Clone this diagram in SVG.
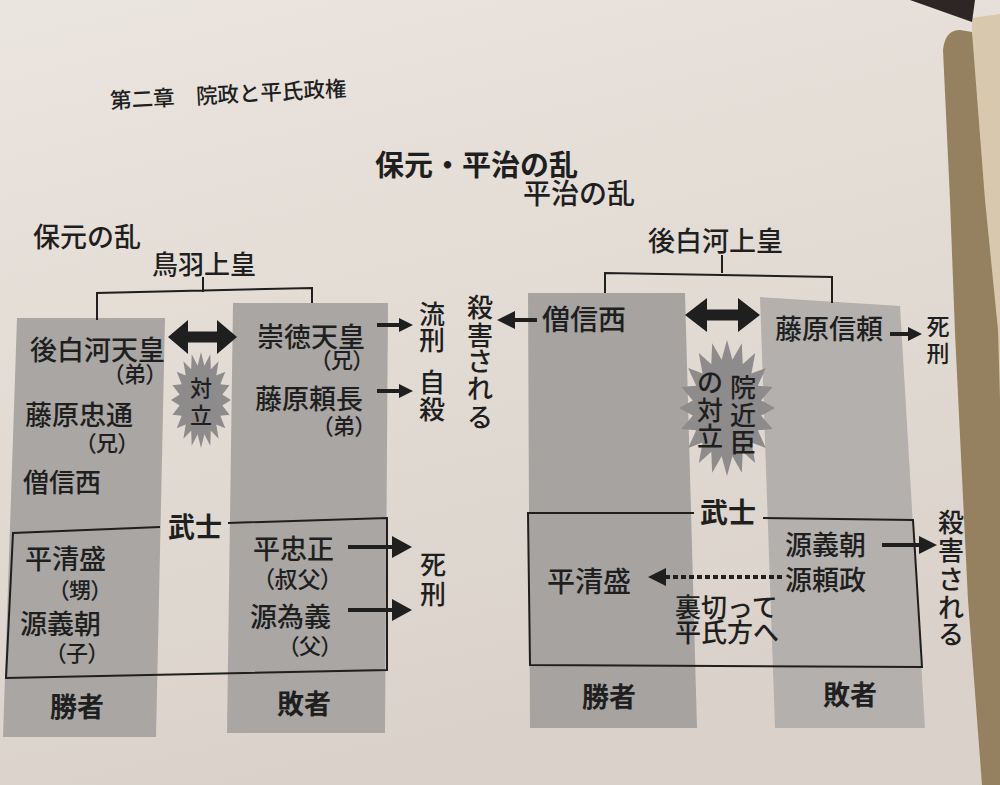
<svg xmlns="http://www.w3.org/2000/svg" xmlns:xlink="http://www.w3.org/1999/xlink" width="1000" height="785" viewBox="0 0 1000 785">
<defs>
<style>
.t{font-family:"Noto Sans CJK JP","Noto Sans CJK SC",sans-serif;fill:#1f1f1f;font-weight:500;dominant-baseline:central;}
.b{font-weight:700;}
.p{font-feature-settings:"palt";font-size:22px;}
.s27{font-size:27px;}
.s26{font-size:26px;}
.s22{font-size:22px;}
.ln{fill:none;stroke:#1f1f1f;stroke-width:2;}
.ar{fill:none;stroke:#1f1f1f;stroke-width:4;}
.g1{fill:#a9a6a4;}
.g2{fill:#a6a3a1;}
.g3{fill:#b3b0ae;}
.star{fill:#8d8b8b;}
</style>
<linearGradient id="bg" x1="0" y1="0" x2="0.3" y2="1">
<stop offset="0" stop-color="#ebe5df"/>
<stop offset="1" stop-color="#dad2ca"/>
</linearGradient>
<marker id="a1" markerUnits="userSpaceOnUse" markerWidth="14" markerHeight="14" refX="4" refY="7" orient="auto"><path d="M0,0 L14,7 L0,14 z" fill="#1f1f1f"/></marker>
<marker id="a2" markerUnits="userSpaceOnUse" markerWidth="20" markerHeight="22" refX="5" refY="11" orient="auto"><path d="M0,0 L20,11 L0,22 z" fill="#1f1f1f"/></marker>
<marker id="a3" markerUnits="userSpaceOnUse" markerWidth="18" markerHeight="18" refX="4" refY="9" orient="auto"><path d="M0,0 L18,9 L0,18 z" fill="#1f1f1f"/></marker>
<polygon id="starShape" points="100,0 71.1,11.2 95.1,30.9 64.2,32.7 80.9,58.8 50.9,50.9 58.8,80.9 32.7,64.2 30.9,95.1 11.2,71.1 0,100 -11.2,71.1 -30.9,95.1 -32.7,64.2 -58.8,80.9 -50.9,50.9 -80.9,58.8 -64.2,32.7 -95.1,30.9 -71.1,11.2 -100,0 -71.1,-11.2 -95.1,-30.9 -64.2,-32.7 -80.9,-58.8 -50.9,-50.9 -58.8,-80.9 -32.7,-64.2 -30.9,-95.1 -11.2,-71.1 0,-100 11.2,-71.1 30.9,-95.1 32.7,-64.2 58.8,-80.9 50.9,-50.9 80.9,-58.8 64.2,-32.7 95.1,-30.9 71.1,-11.2"/>
</defs>

<rect x="0" y="0" width="1000" height="785" fill="url(#bg)"/>
<polygon points="972,18 1000,14 1000,785 985,785" fill="#d8c8ae"/>
<path d="M943,50 Q945,30 960,30 L972,32 L985,200 L998,330 L1000,400 L1000,785 L982,785 L968,600 L955,333 L950,200 Z" fill="#95805f"/>
<polygon points="910,0 975,0 972,22" fill="#2e2626"/>

<text class="t" x="110" y="99" font-size="21.5" font-weight="400" fill="#333" transform="rotate(-3 110 99)">第二章　院政と平氏政権</text>
<text class="t b" x="375" y="163" font-size="29">保元・平治の乱</text>

<g id="hogen">
<text class="t s27" x="33" y="235">保元の乱</text>
</g>
<g id="toba"><text class="t s26" x="152" y="262">鳥羽上皇</text></g>

<g id="hogen-winner">
<polygon class="g1" points="17,318 165,318 156,737 3,737"/>
<text class="t s27"><tspan x="30" y="348">後白河天皇</tspan><tspan class="p" x="113" y="372">（弟）</tspan></text>
<text class="t s27"><tspan x="25" y="413">藤原忠通</tspan><tspan class="p" x="85" y="441">（兄）</tspan></text>
<text class="t s26" x="23" y="480">僧信西</text>
<text class="t s27"><tspan x="25" y="557">平清盛</tspan><tspan class="p" x="58" y="588">（甥）</tspan></text>
<text class="t s27"><tspan x="20" y="622">源義朝</tspan><tspan class="p" x="55" y="651">（子）</tspan></text>
<text class="t b s27" x="50" y="705">勝者</text>
</g>

<g id="hogen-loser">
<polygon class="g1" points="233,303 388,303 385,733 227,733"/>
<text class="t s27"><tspan x="257" y="335">崇徳天皇</tspan><tspan class="p" x="320" y="358">（兄）</tspan></text>
<text class="t s27"><tspan x="255" y="397">藤原頼長</tspan><tspan class="p" x="322" y="424">（弟）</tspan></text>
<text class="t s27"><tspan x="253" y="547">平忠正</tspan><tspan class="p" x="263" y="578" style="font-size:23px">（叔父）</tspan></text>
<text class="t s27"><tspan x="250" y="615">源為義</tspan><tspan class="p" x="288" y="644">（父）</tspan></text>
<text class="t b s27" x="277" y="702">敗者</text>
</g>

<g id="hogen-conflict">
<use xlink:href="#starShape" class="star" transform="translate(201 400) scale(0.30 0.48)"/>
<text class="t s22" text-anchor="middle"><tspan x="201" y="386">対</tspan><tspan x="201" y="413">立</tspan></text>
</g>

<g id="hogen-results">
<text class="t s26" text-anchor="middle"><tspan x="432" y="312">流</tspan><tspan x="432" y="338">刑</tspan></text>
<text class="t s26" text-anchor="middle"><tspan x="432" y="380">自</tspan><tspan x="432" y="407">殺</tspan></text>
<text class="t s26" text-anchor="middle"><tspan x="433" y="562">死</tspan><tspan x="433" y="592">刑</tspan></text>
</g>

<g id="hogen-bushi"><text class="t b s27" x="168" y="525">武士</text></g>

<g id="heiji">
<text class="t" x="523" y="192" font-size="28">平治の乱</text>
</g>
<g id="goshirakawa"><text class="t s27" x="648" y="239">後白河上皇</text></g>

<g id="heiji-winner">
<polygon class="g2" points="528,293 685,293 697,728 530,728"/>
<text class="t" x="542" y="318" font-size="28">僧信西</text>
<text class="t" x="547" y="580" font-size="28">平清盛</text>
<text class="t b s27" x="582" y="695">勝者</text>
</g>

<g id="heiji-loser">
<polygon class="g3" points="760,297 900,306 925,728 775,728"/>
<text class="t s27" x="775" y="327">藤原信頼</text>
<text class="t s27"><tspan x="785" y="543">源義朝</tspan><tspan x="785" y="578">源頼政</tspan></text>
<text class="t b s27" x="823" y="693">敗者</text>
</g>

<g id="heiji-conflict">
<use xlink:href="#starShape" class="star" transform="translate(727 408) scale(0.48 0.68)"/>
<text class="t s26" text-anchor="middle"><tspan x="743" y="385">院</tspan><tspan x="743" y="413">近</tspan><tspan x="743" y="440">臣</tspan><tspan x="710" y="380">の</tspan><tspan x="710" y="408">対</tspan><tspan x="710" y="434">立</tspan></text>
</g>

<g id="heiji-results">
<text class="t s26" text-anchor="middle"><tspan x="480" y="305">殺</tspan><tspan x="480" y="333">害</tspan><tspan x="480" y="359">さ</tspan><tspan x="480" y="386">れ</tspan><tspan x="480" y="415">る</tspan></text>
<text class="t" font-size="23" text-anchor="middle"><tspan x="938" y="325">死</tspan><tspan x="938" y="352">刑</tspan></text>
<text class="t s26" text-anchor="middle"><tspan x="951" y="520">殺</tspan><tspan x="951" y="548">害</tspan><tspan x="951" y="577">さ</tspan><tspan x="951" y="605">れ</tspan><tspan x="951" y="632">る</tspan></text>
<text class="t s26"><tspan x="675" y="605">裏切って</tspan><tspan x="675" y="630">平氏方へ</tspan></text>
</g>

<g id="heiji-bushi"><text class="t b" x="700" y="511" font-size="28">武士</text></g>

<g id="connectors">
<path class="ln" d="M203,277 L203,292 M97,320 L97,293 L312,288 L312,303"/>
<path class="ln" d="M160,527 L13,533 L6,678 L387,670 L387,518 L228,523"/>
<path class="ln" d="M722,255 L722,273 M605,293 L605,273 L832,277 L832,303"/>
<path class="ln" d="M694,513 L528,513 L530,665 L922,667 L913,520 L763,518"/>
<path d="M168,337 L188,320 L188,331.5 L217,331.5 L217,320 L237,337 L217,354 L217,342.5 L188,342.5 L188,354 Z" fill="#1f1f1f"/>
<path d="M685,315 L707,298 L707,309.5 L738,309.5 L738,298 L760,315 L738,332 L738,320.5 L707,320.5 L707,332 Z" fill="#1f1f1f"/>
<line class="ar" x1="377" y1="325" x2="403" y2="325" marker-end="url(#a1)"/>
<line class="ar" x1="377" y1="391" x2="403" y2="391" marker-end="url(#a1)"/>
<line class="ar" x1="348" y1="547" x2="397" y2="547" stroke-width="6" marker-end="url(#a2)"/>
<line class="ar" x1="348" y1="610" x2="397" y2="610" stroke-width="6" marker-end="url(#a2)"/>
<line class="ar" x1="537" y1="320" x2="511" y2="320" marker-end="url(#a3)"/>
<line class="ar" x1="890" y1="334" x2="912" y2="334" marker-end="url(#a1)"/>
<line class="ar" x1="882" y1="545" x2="923" y2="545" stroke-width="5" marker-end="url(#a3)"/>
<line class="ar" x1="782" y1="577" x2="662" y2="577" stroke-width="5" stroke-dasharray="5 3" marker-end="url(#a3)"/>
</g>
</svg>
